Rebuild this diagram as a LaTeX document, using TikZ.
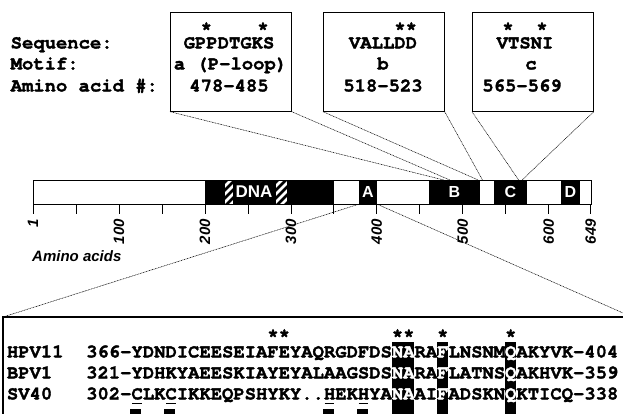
\documentclass[tikz,border=0pt]{standalone}
\usepackage{fontspec}
\setsansfont{Liberation Sans}
\newfontfamily\seqfont{TeX Gyre Cursor}[BoldFeatures={FakeBold=1.8}]
\usepackage{xcolor}
\usetikzlibrary{positioning}
\newcommand{\hlres}[1]{\textcolor{white}{#1}}
\tikzset{
  motifbox/.style={draw, line width=0.7pt, minimum width=121pt, minimum height=99pt, inner sep=0pt, anchor=north west},
  seqtxt/.style={font=\seqfont\bfseries\fontsize{18.87}{21}\selectfont, inner sep=0pt},
  guide/.style={line width=0.55pt, dash pattern=on 0.9pt off 0.7pt},
  domblock/.style={fill=black, text=white, font=\sffamily\bfseries\fontsize{16}{16}\selectfont, minimum height=24pt, inner sep=0pt},
  axnum/.style={rotate=90, anchor=east, inner sep=0pt, font=\sffamily\bfseries\itshape\fontsize{15}{15}\selectfont}
}
\begin{document}
\begin{tikzpicture}[x=1pt, y=-1pt]
\useasboundingbox (0,0) rectangle (623,413);

\node[motifbox] (boxa) at (170,12) {};
\node[motifbox] (boxb) at (323,12) {};
\node[motifbox] (boxc) at (472,12) {};

\node[seqtxt, anchor=base west] (lblseq) at (10.5,48.4) {Sequence:};
\node[seqtxt, anchor=base west] (lblmot) at (10.5,69.4) {Motif:};
\node[seqtxt, anchor=base west] (lblnum) at (10.5,91.4) {Amino acid \#:};

\node[seqtxt, anchor=base] (stara) at (229,34) {~*~~~~*~};
\node[seqtxt, anchor=base] (seqa) at (229,48.4) {GPPDTGKS};
\node[seqtxt, anchor=base] (mota) at (230.5,69.4) {a (P-loop)};
\node[seqtxt, anchor=base] (numa) at (229,91.4) {478-485};

\node[seqtxt, anchor=base] (starb) at (383,34) {~~~~**};
\node[seqtxt, anchor=base] (seqb) at (383,48.4) {VALLDD};
\node[seqtxt, anchor=base] (motb) at (383,69.4) {b};
\node[seqtxt, anchor=base] (numb) at (383,91.4) {518-523};

\node[seqtxt, anchor=base] (starc) at (525,34) {*~~*~};
\node[seqtxt, anchor=base] (seqc) at (525,48.4) {VTSNI};
\node[seqtxt, anchor=base] (motc) at (531,69.4) {c};
\node[seqtxt, anchor=base] (numc) at (522,91.4) {565-569};

\node[draw, line width=0.7pt, minimum width=558pt, minimum height=24pt, inner sep=0pt, anchor=north west] (prot) at (33,180) {};
\node[domblock, minimum width=129pt] (dnadom) at (269.5,192) {};
\foreach \sx/\ex in {225/233,276/287}{
  \begin{scope}
    \clip (\sx,180.4) rectangle (\ex,203.6);
    \fill[white] (\sx,180) rectangle (\ex,204);
    \foreach \k in {-32,-24,...,16}
      \draw[line width=2.8pt] (\sx+\k,206) -- ++(28,-28);
  \end{scope}
}
\node[text=white, inner sep=0pt, font=\sffamily\bfseries\fontsize{17}{17}\selectfont] (dnalbl) at (254,192) {DNA};
\node[domblock, minimum width=18pt] (domA) at (368,192) {A};
\node[domblock, minimum width=51pt] (domB) at (454.5,192) {B};
\node[domblock, minimum width=33pt] (domC) at (510.5,192) {C};
\node[domblock, minimum width=19pt] (domD) at (570.5,192) {D};
\draw[line width=0.7pt] (prot.north west) rectangle (prot.south east);

\foreach \aa in {0,50,...,600,649}
  \draw[line width=0.7pt] (33+\aa*0.8595,204) -- ++(0,10);
\foreach \aa/\txt in {0/1,100/100,200/200,300/300,400/400,500/500,600/600,649/649}
  \node[axnum] (ax\aa) at (33+\aa*0.8595,219) {\txt};
\node[anchor=west, inner sep=0pt, font=\sffamily\bfseries\itshape\fontsize{15}{15}\selectfont] (axtitle) at (32,256) {Amino acids};

\coordinate (ma1) at (33+478*0.8595,180);
\coordinate (ma2) at (33+485*0.8595,180);
\coordinate (mb1) at (33+518*0.8595,180);
\coordinate (mb2) at (33+523*0.8595,180);
\coordinate (mc1) at (33+565*0.8595,180);
\coordinate (mc2) at (33+569*0.8595,180);
\draw[guide] (boxa.south west) -- (ma1);
\draw[guide] (boxa.south east) -- (ma2);
\draw[guide] (boxb.south west) -- (mb1);
\draw[guide] (boxb.south east) -- (mb2);
\draw[guide] (boxc.south west) -- (mc1);
\draw[guide] (boxc.south east) -- (mc2);

\coordinate (alntl) at (3,317);
\coordinate (alntr) at (624,317);
\coordinate (alnfar) at (623,313);
\draw[guide] (domA.south west) -- (alntl);
\draw[guide] (domA.south east) -- (alnfar);
\draw[line width=1.3pt] (3,414) -- (alntl) -- (alntr);

\foreach \c/\n in {27/2,31/1,37/1}
  \fill (86+\c*11.32,342) rectangle ++(\n*11.32,72);

\node[seqtxt, anchor=base west] (stars) at (86,341) {~~~~~~~~~~~~~~~~**~~~~~~~~~**~~*~~~~~*};
\node[seqtxt, anchor=base west] (hpv) at (6.76,357.4) {HPV11~~366-YDNDICEESEIAFEYAQRGDFDS\hlres{NA}RA\hlres{F}LNSNM\hlres{Q}AKYVK-404};
\node[seqtxt, anchor=base west] (bpv) at (6.76,378.4) {BPV1~~~321-YDHKYAEESKIAYEYALAAGSDS\hlres{NA}RA\hlres{F}LATNS\hlres{Q}AKHVK-359};
\node[seqtxt, anchor=base west] (sv) at (6.76,399.4) {SV40~~~302-CLKCIKKEQPSHYKY..HEKHYA\hlres{NA}AI\hlres{F}ADSKN\hlres{Q}KTICQ-338};
\foreach \c in {4,7,21,24}{
  \draw[line width=0.8pt] (86+\c*11.32+1,403) -- ++(9.3,0);
  \fill (86+\c*11.32-1,409) rectangle ++(11,5);
}
\end{tikzpicture}
\end{document}
